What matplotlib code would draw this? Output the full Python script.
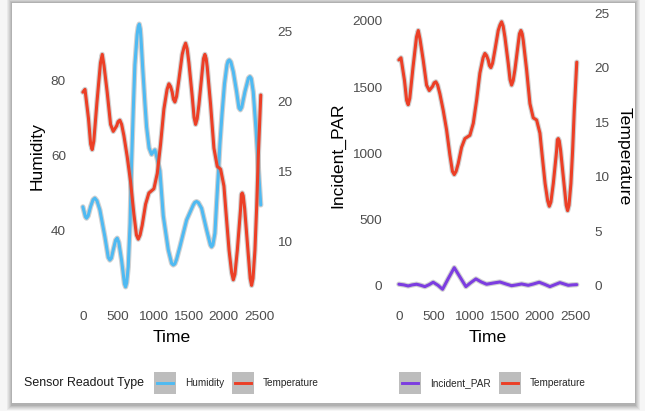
import matplotlib
matplotlib.use("Agg")
import matplotlib.pyplot as plt
from matplotlib.patches import Rectangle
from matplotlib.lines import Line2D

plt.rcParams['font.family'] = ['Liberation Sans', 'DejaVu Sans']

# ---- data -------------------------------------------------------------
temp_time = [0, 30, 80, 110, 132, 155, 200, 250, 275, 300,
             345, 393, 431, 480, 500, 525, 550, 582, 629, 677,
             724, 760, 786, 812, 842, 890, 937, 1008, 1056, 1103,
             1150, 1195, 1221, 1245, 1268, 1285, 1306, 1330, 1363, 1410,
             1435, 1458, 1480, 1505, 1552, 1578, 1600, 1622, 1647, 1694,
             1712, 1732, 1750, 1765, 1813, 1860, 1907, 1955, 2002, 2030,
             2075, 2112, 2135, 2158, 2192, 2239, 2250, 2262, 2276, 2296,
             2343, 2375, 2395, 2415, 2442, 2466, 2489, 2525]
temp_vals = [20.7, 20.9, 18.8, 17.0, 16.6, 17.2, 20.0, 22.8, 23.4, 22.6,
             20.7, 18.4, 17.9, 18.3, 18.6, 18.7, 18.4, 17.6, 16.1, 14.3,
             12.0, 10.5, 10.2, 10.5, 11.2, 12.7, 13.5, 13.8, 14.9, 17.0,
             19.5, 20.9, 21.3, 21.1, 20.7, 20.2, 20.0, 20.4, 21.6, 23.4,
             23.9, 24.2, 23.8, 22.8, 20.4, 18.9, 18.4, 18.8, 19.8, 22.2,
             23.1, 23.4, 23.1, 22.5, 19.8, 16.7, 15.4, 15.2, 14.0, 12.2,
             9.4, 7.8, 7.3, 7.7, 9.4, 12.4, 13.4, 13.5, 13.3, 12.4,
             9.4, 7.4, 6.9, 7.4, 9.4, 12.4, 16.0, 20.5]

hum_time = [0, 35, 52, 75, 110, 145, 170, 200, 241, 312,
            360, 383, 405, 431, 465, 487, 510, 549, 590, 606,
            622, 644, 670, 691, 715, 738, 770, 785, 800, 815,
            825, 848, 880, 904, 940, 975, 1000, 1022, 1050, 1093,
            1141, 1212, 1260, 1283, 1306, 1330, 1377, 1472, 1567, 1590,
            1614, 1640, 1685, 1756, 1810, 1827, 1845, 1874, 1900, 1922,
            1945, 1975, 2010, 2045, 2060, 2078, 2100, 2135, 2182, 2215,
            2235, 2255, 2300, 2350, 2371, 2390, 2418, 2457, 2490, 2525]
hum_vals = [46.4, 43.8, 43.4, 44.0, 46.5, 48.3, 48.7, 48.0, 45.6, 38.5,
            33.0, 32.3, 32.8, 35.0, 37.6, 38.1, 37.0, 32.3, 26.0, 25.2,
            26.3, 30.5, 42.0, 58.0, 72.0, 84.0, 92.0, 94.0, 94.8, 93.5,
            91.0, 83.5, 74.0, 67.6, 62.0, 60.3, 61.0, 61.5, 59.5, 56.0,
            44.0, 35.0, 31.4, 31.0, 31.3, 32.5, 35.8, 42.9, 46.9, 47.6,
            47.8, 47.5, 46.0, 40.3, 36.3, 35.8, 36.3, 39.4, 48.0, 55.0,
            63.0, 71.0, 79.0, 84.0, 85.0, 85.3, 84.8, 82.2, 76.9, 72.6,
            72.1, 72.8, 76.9, 80.5, 80.9, 80.4, 76.9, 67.0, 57.0, 46.9]

par_time = [0, 70, 132, 190, 251, 310, 369, 430, 487, 555,
            620, 700, 786, 870, 951, 1020, 1093, 1170, 1245, 1340,
            1434, 1520, 1600, 1670, 1742, 1836, 1910, 1992, 2070, 2144,
            2215, 2286, 2345, 2404, 2460, 2525]
par_vals = [13, 8, 0, 8, 13, 5, -5, 10, 28, 5,
            -25, 55, 138, 65, -5, 25, 53, 30, 13, 22,
            30, 15, 2, 8, 15, 5, 15, 28, 12, -5,
            10, 25, 15, 5, 8, 10]

x_ticks = [0, 500, 1000, 1500, 2000, 2500]
hum_ticks = [40, 60, 80]
temp_ticks_left = [10, 15, 20, 25]
par_ticks = [0, 500, 1000, 1500, 2000]
temp_ticks_right = [0, 5, 10, 15, 20, 25]

# ---- styling ------------------------------------------------------------
W, H, DPI = 645, 411, 100
C_HUM = '#4fbaf2'
C_TEMP = '#ec3f26'
C_PAR = '#7c3de0'
C_HALO = '#9a9a9a'
TICK_C = '#4d4d4d'


def px_rect(x0, y0, x1, y1):
    """Figure-fraction box from pixel edges measured from the top-left."""
    return [x0 / W, 1 - y1 / H, (x1 - x0) / W, (y1 - y0) / H]


def fx(x):
    return x / W


def fy(y):
    return 1 - y / H


fig = plt.figure(figsize=(W / DPI, H / DPI), dpi=DPI)
fig.patch.set_facecolor('#f6f6f6')

# card with soft shadow (kept below the axes)
for i, a in enumerate([0.05, 0.05, 0.06, 0.07, 0.08]):
    g = 5 - i
    fig.add_artist(Rectangle((fx(12 - g), fy(405 + g)), (623 + 2 * g) / W,
                             (402 + 2 * g) / H, transform=fig.transFigure,
                             facecolor='#000000', alpha=a, lw=0, zorder=-3))
fig.add_artist(Rectangle((fx(12), fy(403)), 623 / W, 400 / H,
                         transform=fig.transFigure, facecolor='white',
                         lw=0, zorder=-2))


def style_axis(ax):
    for s in ax.spines.values():
        s.set_visible(False)
    ax.set_facecolor('none')
    ax.patch.set_alpha(0)
    ax.tick_params(length=0, labelsize=9.7, labelcolor=TICK_C)
    ax.grid(False)


def draw_line(ax, t, v, color):
    ax.plot(t, v, color=C_HALO, lw=3.8, alpha=0.45,
            solid_joinstyle='round', solid_capstyle='round', zorder=2)
    ax.plot(t, v, color=color, lw=2.2,
            solid_joinstyle='round', solid_capstyle='round', zorder=3)


XLIM = (-126, 2656)

# ---- left panel: Humidity + Temperature ----------------------------------
ax1 = fig.add_axes(px_rect(74, 11, 270, 300))
ax1b = ax1.twinx()
for a in (ax1, ax1b):
    style_axis(a)
    a.set_xlim(*XLIM)
ax1.set_ylim(21.72, 98.28)
ax1b.set_ylim(5.857, 26.5)
ax1.set_xticks(x_ticks)
ax1.set_yticks(hum_ticks)
ax1b.set_yticks(temp_ticks_left)
ax1.tick_params(axis='y', pad=5.8)
ax1b.tick_params(axis='y', pad=5.3)
ax1.tick_params(axis='x', pad=8.0)
draw_line(ax1, hum_time, hum_vals, C_HUM)
draw_line(ax1b, temp_time, temp_vals, C_TEMP)

# ---- right panel: Incident_PAR + Temperature -----------------------------
ax2 = fig.add_axes(px_rect(390, 8, 586, 302))
ax2b = ax2.twinx()
for a in (ax2, ax2b):
    style_axis(a)
    a.set_xlim(*XLIM)
ax2.set_ylim(-121, 2096)
ax2b.set_ylim(-1.47, 25.46)
ax2.set_xticks(x_ticks)
ax2.set_yticks(par_ticks)
ax2b.set_yticks(temp_ticks_right)
ax2.tick_params(axis='y', pad=5.6)
ax2b.tick_params(axis='y', pad=5.8)
ax2.tick_params(axis='x', pad=6.6)
draw_line(ax2, par_time, par_vals, C_PAR)
draw_line(ax2b, temp_time, temp_vals, C_TEMP)

# ---- axis titles ----------------------------------------------------------
TITLE_FS = 12.6
fig.text(fx(37), fy(156), 'Humidity', rotation=90, ha='center', va='center',
         fontsize=TITLE_FS, color='black')
fig.text(fx(338), fy(155), 'Incident_PAR', rotation=90, ha='center',
         va='center', fontsize=TITLE_FS, color='black')
fig.text(fx(624), fy(156), 'Temperature', rotation=270, ha='center',
         va='center', fontsize=TITLE_FS, color='black')
fig.text(fx(172), fy(337), 'Time', ha='center', va='center',
         fontsize=TITLE_FS, color='black')
fig.text(fx(488), fy(337), 'Time', ha='center', va='center',
         fontsize=TITLE_FS, color='black')

# ---- legends --------------------------------------------------------------
LEG_Y = 383
fig.text(fx(24), fy(LEG_Y), 'Sensor Readout Type', ha='left', va='center',
         fontsize=8.9, color='#1a1a1a')

legend_items = [
    (154, 'Humidity', C_HUM),
    (232, 'Temperature', C_TEMP),
    (399, 'Incident_PAR', C_PAR),
    (499, 'Temperature', C_TEMP),
]
KEY_W, KEY_H = 22, 22
for kx, label, col in legend_items:
    fig.add_artist(Rectangle((fx(kx), fy(LEG_Y + KEY_H / 2)), KEY_W / W,
                             KEY_H / H, transform=fig.transFigure,
                             facecolor='#bdbdbd', lw=0, zorder=1))
    fig.add_artist(Line2D([fx(kx + 3), fx(kx + KEY_W - 3)],
                          [fy(LEG_Y), fy(LEG_Y)], transform=fig.transFigure,
                          color=col, lw=2.1, zorder=2))
    fig.text(fx(kx + KEY_W + 9), fy(LEG_Y), label, ha='left', va='center',
             fontsize=7.2, color='#262626')

fig.savefig('out.png', dpi=DPI, facecolor=fig.get_facecolor())
